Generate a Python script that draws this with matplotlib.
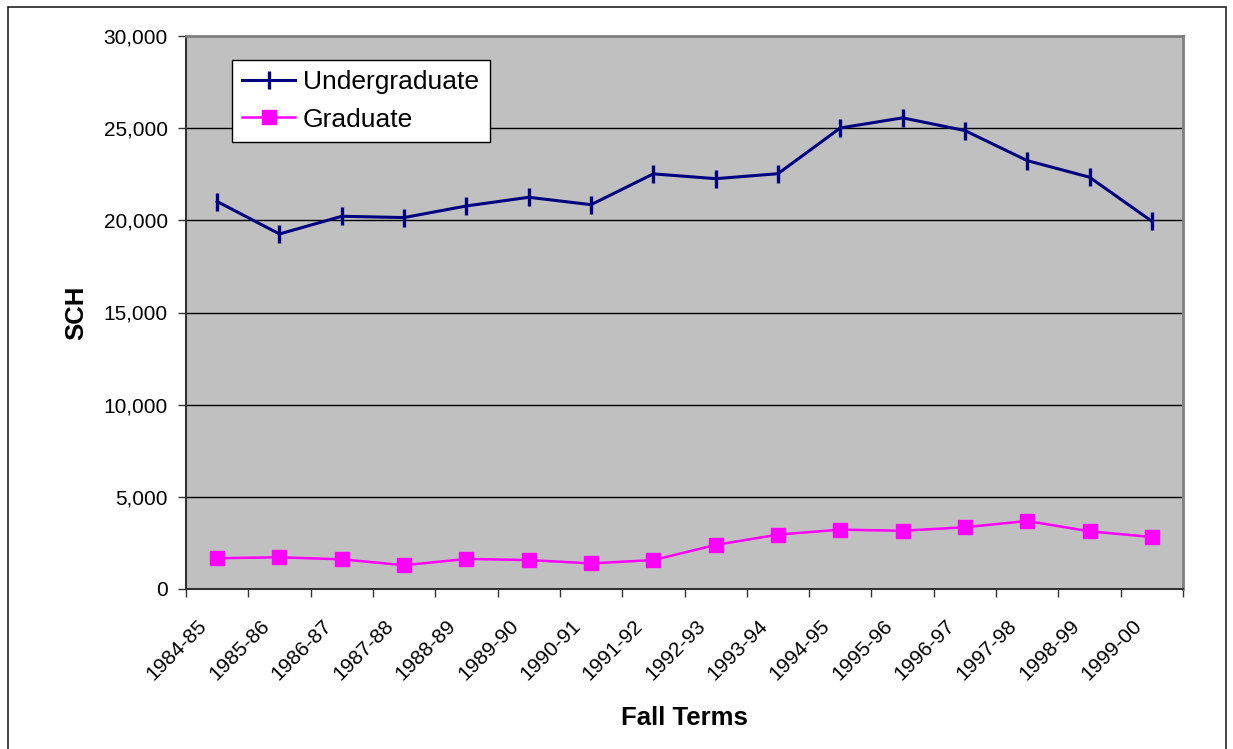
import matplotlib
matplotlib.use('Agg')
import matplotlib.pyplot as plt
from matplotlib.patches import Rectangle
from matplotlib.transforms import ScaledTranslation, blended_transform_factory
import numpy as np

plt.rcParams['font.family'] = ['Liberation Sans', 'DejaVu Sans']

terms = ['1984-85', '1985-86', '1986-87', '1987-88', '1988-89', '1989-90',
         '1990-91', '1991-92', '1992-93', '1993-94', '1994-95', '1995-96',
         '1996-97', '1997-98', '1998-99', '1999-00']
undergrad = [21020, 19260, 20220, 20150, 20780, 21250, 20850, 22520,
             22260, 22530, 25010, 25560, 24870, 23240, 22340, 19950]
grad = [1670, 1720, 1610, 1290, 1630, 1570, 1390, 1570,
        2390, 2950, 3220, 3160, 3350, 3690, 3130, 2820]

W, H = 1233, 749
fig = plt.figure(figsize=(W / 100, H / 100), dpi=100)
ax = fig.add_axes([186 / W, 1 - 589 / H, (1183 - 186) / W, (589 - 36) / H])
ax.set_facecolor('#C0C0C0')

x = np.arange(len(terms))
ax.plot(x, undergrad, color='#000080', lw=2.2, marker='|', ms=13, mew=2.4,
        label='Undergraduate', zorder=3)
ax.plot(x, grad, color='#FF00FF', lw=1.8, marker='s', ms=10.5, mec='#FF00FF',
        label='Graduate', zorder=3)

ax.set_xlim(-0.5, len(terms) - 0.5)
ax.set_ylim(0, 30000)
ax.set_yticks(np.arange(0, 30001, 5000))
ax.set_yticklabels(['0' if v == 0 else f'{v:,}' for v in range(0, 30001, 5000)])
ax.yaxis.grid(True, color='#000000', lw=1)
ax.set_axisbelow(True)

# ticks between categories, labels drawn at category centres
ax.set_xticks(np.arange(-0.5, len(terms), 1.0))
ax.set_xticklabels([])
ax.tick_params(axis='x', which='major', length=6, width=1, color='#333333', direction='out')
ax.tick_params(axis='y', length=6, width=1, color='#333333', direction='out',
               labelsize=15, pad=7)

lab_tr = blended_transform_factory(ax.transData, ax.transAxes) + \
    ScaledTranslation(-20 / 100, -27 / 100, fig.dpi_scale_trans)
for i, t in enumerate(terms):
    ax.text(i, 0, t, transform=lab_tr, rotation=45, ha='right', va='top',
            rotation_mode='anchor', fontsize=15, clip_on=False)

for s in ['left', 'bottom']:
    ax.spines[s].set_color('#333333')
    ax.spines[s].set_linewidth(1.5)
for s in ['top', 'right']:
    ax.spines[s].set_color('#808080')
    ax.spines[s].set_linewidth(2)

ax.set_ylabel('SCH', fontsize=18.5, fontweight='bold', labelpad=11)
fig.text((186 + 1183) / 2 / W, 1 - 718 / H, 'Fall Terms', fontsize=18.5,
         fontweight='bold', ha='center', va='center')

leg = ax.legend(loc='upper left', bbox_to_anchor=(0.046, 0.957), borderaxespad=0,
                fontsize=19, frameon=True, fancybox=False, handlelength=2.0,
                handletextpad=0.3, borderpad=0.4, labelspacing=0.5)
leg.get_frame().set_edgecolor('#000000')
leg.get_frame().set_linewidth(1)
leg.get_frame().set_facecolor('white')
leg.get_frame().set_alpha(1)

fig.patches.append(Rectangle((8 / W, -0.02), (1226 - 8) / W, (H - 7) / H + 0.02,
                             transform=fig.transFigure, fill=False,
                             edgecolor='#222222', lw=1.2))

fig.savefig('out.png', dpi=100)
